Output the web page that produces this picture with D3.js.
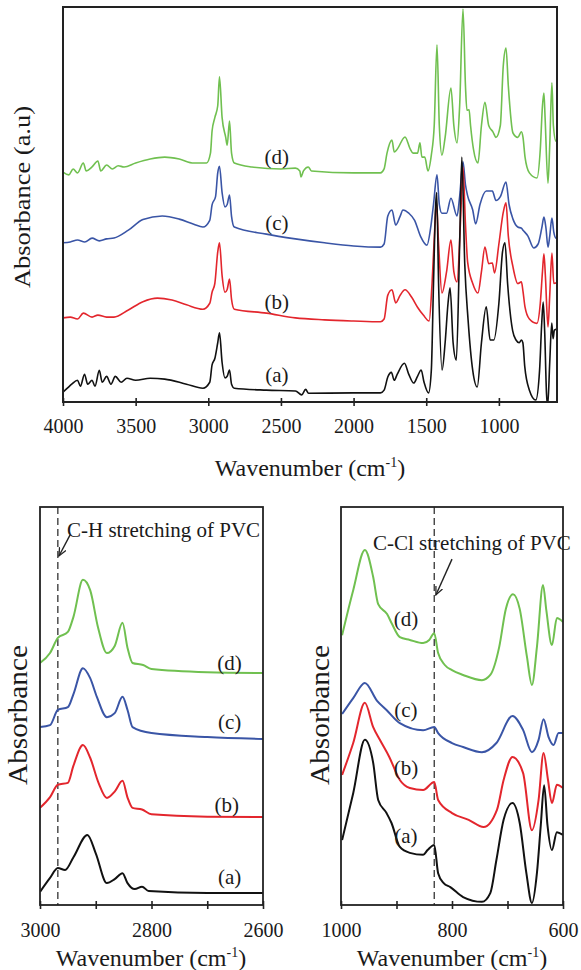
<!DOCTYPE html>
<html>
<head>
<meta charset="utf-8">
<script src="https://cdn.jsdelivr.net/npm/d3@7"></script>
<style>
  html, body { margin: 0; padding: 0; background: #fff; }
  svg { display: block; }
  text { font-family: "Liberation Serif", "Times New Roman", serif; fill: #1a1a1a; }
</style>
</head>
<body>
<svg id="chart" width="581" height="970"></svg>
<script>
// ---------------- DATA ----------------
const seriesNames = ["(a)", "(b)", "(c)", "(d)"];

// Full spectrum (4000-600 cm-1), [wavenumber, absorbance a.u.]
const fullA = [[4000,2.5],[3970,3.5],[3940,4.5],[3900,5.5],[3880,4],[3852,7],[3830,4.5],[3800,5.5],[3780,4],[3750,8],[3730,5],[3700,6.5],[3670,4.5],[3640,6.5],[3600,5],[3560,6],[3500,5.5],[3400,6],[3300,5.8],[3150,4.5],[3037,3.5],[2990,5],[2974,9.4],[2955,11],[2935,15],[2923,17.5],[2905,10],[2885,6.1],[2870,6.5],[2854,8.1],[2840,4.5],[2821,3.5],[2600,3],[2400,2.8],[2357,1.8],[2330,3.2],[2310,2.2],[2000,2.3],[1815,2.3],[1790,3],[1764,6.4],[1740,7.5],[1720,5.5],[1700,7],[1650,9.8],[1620,7],[1586,4.8],[1560,6.5],[1535,8.1],[1515,5],[1484,2.3],[1465,8],[1450,30],[1435,50],[1428,53],[1415,30],[1391,8.1],[1370,15],[1350,25],[1336,28.9],[1315,15],[1293,10.6],[1270,40],[1255,62],[1235,35],[1212,20.8],[1180,8],[1149,3.8],[1120,15],[1087,24.1],[1060,15.7],[1035,15.7],[1000,25],[975,38],[958,40.3],[940,30],[905,18],[882,15.7],[860,15],[845,15.7],[835,15],[822,9],[790,3],[746,0.5],[720,8],[705,20],[695,25.3],[685,18],[672,2],[664,-1],[650,10],[636,20],[627,16],[618,18.2],[600,18.5]];
const fullB = [[4000,21.3],[3950,21.5],[3900,21],[3860,22.5],[3800,21.5],[3760,22],[3700,21.5],[3649,21.5],[3550,23.3],[3450,25.4],[3350,26.3],[3250,25.8],[3150,24.6],[3037,23.5],[2990,25],[2974,27.8],[2955,30],[2935,38],[2923,40.3],[2905,32],[2885,27.8],[2870,28.5],[2854,31.1],[2840,26],[2821,23.5],[2600,22.5],[2401,21.3],[2200,20.8],[2000,20.5],[1815,20.3],[1790,21],[1765,27],[1736,28.4],[1710,25.1],[1680,27],[1646,28.4],[1600,26.5],[1560,24],[1520,22],[1480,20.5],[1460,30],[1440,45],[1430,50.6],[1415,40],[1392,27.6],[1360,33],[1330,41],[1310,33],[1288,30.4],[1265,45],[1247,59.5],[1230,45],[1215,35.4],[1180,30],[1144,27.6],[1120,33],[1096,39.2],[1070,35],[1045,35.2],[1030,32.7],[1000,40],[970,48],[951,50.4],[935,42],[903,34.2],[870,30],[845,30.4],[834,28],[820,24],[790,21],[738,19.9],[715,25],[700,33],[690,37.5],[680,32],[662,19],[650,27],[635,37.7],[622,30],[607,30.1],[600,30.5]];
const fullC = [[4000,40.3],[3950,40.5],[3900,41],[3850,40.5],[3800,41.5],[3750,40.8],[3700,41.3],[3649,41.5],[3550,43.5],[3450,46.2],[3317,47.1],[3200,46.3],[3100,45],[3037,44.3],[2990,46],[2974,49.9],[2950,52],[2935,58],[2923,59.7],[2905,53],[2885,49.4],[2870,50],[2854,52.4],[2840,47],[2821,44.3],[2600,42.5],[2401,41.3],[2200,40.3],[2000,39.5],[1815,39.2],[1790,40],[1765,47],[1736,48.6],[1710,44.8],[1680,47],[1660,48.6],[1620,47.8],[1580,46],[1540,42],[1495,39.7],[1470,44],[1450,50],[1426,57.5],[1410,50],[1392,47.8],[1360,47.8],[1330,51.6],[1288,47.1],[1270,52],[1247,60.8],[1230,55],[1215,52.2],[1180,48.6],[1160,45.1],[1130,50],[1087,53.4],[1045,53.4],[1020,51],[990,52],[951,55.7],[930,50],[903,46.3],[870,44.3],[845,44],[834,43.5],[800,42],[760,39],[730,40],[705,44],[690,46.8],[676,44],[662,39.2],[650,42],[635,46.6],[622,43],[607,41.5],[600,42]];
const fullD = [[4000,58.2],[3960,57.5],[3930,59],[3900,58],[3860,60.5],[3840,58.5],[3800,59.5],[3760,61],[3740,58.5],[3700,60],[3660,59],[3620,59.8],[3580,59.5],[3500,60.5],[3400,61.5],[3300,62],[3200,61.5],[3100,60.5],[3012,60.5],[2985,63],[2974,68.6],[2955,72],[2935,75],[2923,82.3],[2905,72],[2880,67],[2870,65],[2854,71.1],[2840,63],[2821,60.5],[2700,59.5],[2500,59],[2401,59.2],[2370,58.5],[2362,57],[2345,58.5],[2312,59.5],[2290,58.5],[2000,58],[1815,58],[1790,59],[1770,63],[1736,66.3],[1720,63.3],[1700,64],[1646,67.1],[1610,64],[1591,63],[1560,63],[1543,65.6],[1530,62],[1510,62],[1488,58.5],[1465,62.5],[1445,70],[1426,90.4],[1410,70],[1392,62.5],[1370,67],[1330,79.5],[1310,70],[1288,65.6],[1270,75],[1247,99.5],[1230,80],[1220,73.9],[1205,74],[1195,70],[1175,64],[1144,60.5],[1120,70],[1096,75.9],[1070,70],[1041,68.4],[1020,67],[990,70],[970,85],[951,89.6],[935,80],[903,68.1],[870,67],[845,68.4],[834,67],[820,62],[790,58],[738,56.7],[715,64],[700,75],[690,78.2],[682,72],[662,55.4],[650,65],[635,80.8],[625,70],[607,66],[600,67]];

// C-H region (3000-2600 cm-1)
const chA = [[3000,3.3],[2982,6.8],[2968,9.3],[2955,8.8],[2940,12],[2915,17.6],[2900,13],[2880,5.5],[2866,6.5],[2852,8],[2843,5.5],[2830,4],[2817,4.6],[2805,3.5],[2700,3],[2600,3]];
const chB = [[3000,24.4],[2982,27.1],[2968,30.2],[2950,30.7],[2940,35],[2923,40.2],[2910,37],[2895,30.7],[2880,26.9],[2866,28.5],[2852,31.2],[2843,27],[2834,24.4],[2817,24],[2800,22.8],[2700,22.2],[2600,22.1]];
const chC = [[3000,44.7],[2982,45.2],[2968,49],[2950,49.7],[2940,53],[2923,59.5],[2910,57],[2898,52.3],[2880,47.2],[2866,48.2],[2852,52.3],[2843,49],[2834,44.7],[2800,43.2],[2700,42.2],[2600,41.7]];
const chD = [[3000,60.8],[2982,63.3],[2968,67.1],[2950,68.6],[2940,72.4],[2923,81.7],[2910,79.1],[2896,69.8],[2880,63.3],[2866,65.1],[2852,70.9],[2843,64.6],[2834,60.8],[2815,60.3],[2800,59.3],[2700,58.5],[2600,58.3]];

// C-Cl region (1000-600 cm-1)
const cclA = [[998,16.3],[978,28.1],[957,41.5],[942,35.7],[933,26.4],[918,23.1],[909,20.6],[894,14.6],[876,13.1],[852,12.6],[844,13.8],[832,15.1],[825,8],[815,5.5],[803,4.5],[780,2],[746,0.8],[731,3],[720,11.3],[707,21.4],[691,25.6],[678,20.6],[666,8],[656,0.5],[647,8],[640,20.1],[634,30.1],[628,20.1],[620,13.8],[611,18.3],[600,17.6]];
const cclB = [[998,32.7],[978,40.7],[957,50.8],[942,44.7],[930,41.5],[913,37.2],[894,31.4],[876,29.4],[852,28.9],[832,30.9],[825,26.4],[800,23.1],[770,21.4],[743,19.6],[719,23.9],[707,31.4],[691,37.2],[672,33.2],[656,18.8],[644,26.4],[635,38.2],[627,31.4],[620,25.6],[611,30.2],[600,29.4]];
const cclC = [[998,48],[978,52],[957,55.8],[935,51.3],[918,49],[894,45.7],[852,43.9],[832,44.7],[825,43.2],[800,40.7],[780,39.7],[746,38.4],[720,40.7],[691,47.5],[672,44],[656,38.4],[644,41.5],[635,46.7],[626,42.2],[617,40.2],[608,43.2],[600,43.2]];
const cclD = [[998,67.8],[978,79.1],[957,89.2],[942,82.4],[933,75.6],[917,73.1],[908,70.6],[894,67.3],[876,66.6],[852,65.8],[841,66.6],[832,68.3],[825,63.3],[813,60.3],[800,59],[780,57.8],[746,56.5],[731,57.8],[715,64.8],[703,74.4],[690,78.1],[678,74.4],[665,62.4],[656,55.3],[647,64.8],[636,80.4],[630,74],[620,65.3],[611,72.1],[600,71.1]];

// Tick values
const fullTicks = [4000, 3500, 3000, 2500, 2000, 1500, 1000];
const chTicks = [3000, 2900, 2800, 2700, 2600];
const chTickLabels = [3000, 2800, 2600];
const cclTicks = [1000, 900, 800, 700, 600];
const cclTickLabels = [1000, 800, 600];

// Series label anchors [wavenumber, absorbance]
const fullLabelPos = [[2528, 6.8], [2528, 25.3], [2528, 45.3], [2528, 62]];
const chLabelPos = [[2660, 7], [2665, 25.3], [2660, 46], [2660, 60.8]];
const cclLabelPos = [[883, 17.5], [883, 34.5], [883, 49], [883, 72]];

// Marker lines
const chMarker = 2968;
const cclMarker = 832;

// ---------------- STYLE ----------------
const colors = ["#111111", "#e3262d", "#3a55a6", "#70c050"];

const svg = d3.select("#chart");
const defs = svg.append("defs");
defs.append("marker").attr("id", "arrow").attr("viewBox", "0 0 10 10")
  .attr("refX", 9).attr("refY", 5).attr("markerWidth", 9).attr("markerHeight", 9)
  .attr("orient", "auto-start-reverse").attr("markerUnits", "userSpaceOnUse")
  .append("path").attr("d", "M0,1 L9,5 L0,9").attr("fill", "none").attr("stroke", "#222").attr("stroke-width", 1.4);

function panel(cfg) {
  const x = d3.scaleLinear().domain(cfg.xDomain).range([cfg.left, cfg.right]);
  const y = d3.scaleLinear().domain([0, 100]).range([cfg.bottom, cfg.top]);
  const g = svg.append("g");
  const clipId = "clip" + cfg.id;
  defs.append("clipPath").attr("id", clipId).append("rect")
    .attr("x", cfg.left).attr("y", cfg.top).attr("width", cfg.right - cfg.left).attr("height", cfg.bottom - cfg.top);

  if (cfg.marker !== undefined) {
    g.append("line").attr("x1", x(cfg.marker)).attr("x2", x(cfg.marker))
      .attr("y1", cfg.top).attr("y2", cfg.bottom)
      .attr("stroke", "#333").attr("stroke-width", 1.3).attr("stroke-dasharray", "7,4");
  }

  const line = d3.line().x(d => x(d[0])).y(d => y(d[1])).curve(d3.curveMonotoneX);
  const lg = g.append("g").attr("clip-path", `url(#${clipId})`);
  for (let i = cfg.series.length - 1; i >= 0; i--) {
    lg.append("path").datum(cfg.series[i]).attr("d", line)
      .attr("fill", "none").attr("stroke", colors[i]).attr("stroke-width", cfg.lw)
      .attr("stroke-linejoin", "round");
  }

  cfg.labelPos.forEach((p, i) => {
    g.append("text").attr("x", x(p[0])).attr("y", y(p[1])).attr("dy", "0.35em")
      .attr("text-anchor", "middle").attr("font-size", 21).text(seriesNames[i]);
  });

  const fmt = d => cfg.tickLabels.includes(d) ? d : "";
  g.append("g").attr("transform", `translate(0,${cfg.bottom})`)
    .call(d3.axisBottom(x).tickValues(cfg.ticks).tickSizeInner(cfg.tick).tickSizeOuter(0)
      .tickPadding(cfg.pad).tickFormat(fmt))
    .call(a => a.select(".domain").remove())
    .call(a => a.selectAll("line").attr("stroke", "#222").attr("stroke-width", 1.6))
    .call(a => a.selectAll("text").attr("font-size", 20).attr("fill", "#1a1a1a")
      .attr("font-family", '"Liberation Serif", serif'));
  g.append("g").attr("transform", `translate(0,${cfg.bottom})`)
    .call(d3.axisBottom(x).tickValues(cfg.ticks).tickSizeInner(-cfg.tick).tickSizeOuter(0).tickFormat(""))
    .call(a => a.select(".domain").remove())
    .call(a => a.selectAll("line").attr("stroke", "#222").attr("stroke-width", 1.6));

  g.append("rect").attr("x", cfg.left).attr("y", cfg.top)
    .attr("width", cfg.right - cfg.left).attr("height", cfg.bottom - cfg.top)
    .attr("fill", "none").attr("stroke", "#222").attr("stroke-width", cfg.frameW);

  const xt = g.append("text").attr("x", cfg.xTitleX).attr("y", cfg.xTitleY)
    .attr("text-anchor", "middle").attr("font-size", 24);
  xt.append("tspan").text("Wavenumber (cm");
  xt.append("tspan").attr("font-size", 14).attr("dy", -9).text("-1");
  xt.append("tspan").attr("dy", 9).text(")");

  const yt = g.append("text").attr("transform", `translate(${cfg.yTitleX},${cfg.yTitleY}) rotate(-90)`)
    .attr("text-anchor", "middle").attr("font-size", cfg.yTitleSize)
    .text(cfg.yTitle);
  if (cfg.yTitleLen) yt.attr("textLength", cfg.yTitleLen).attr("lengthAdjust", "spacingAndGlyphs");

  if (cfg.note) {
    g.append("text").attr("x", cfg.note.x).attr("y", cfg.note.y).attr("font-size", 21).text(cfg.note.text);
    const a = cfg.note.arrow;
    g.append("line").attr("x1", x(a[0][0])).attr("y1", y(a[0][1]))
      .attr("x2", x(a[1][0])).attr("y2", y(a[1][1]))
      .attr("stroke", "#222").attr("stroke-width", 1.4).attr("marker-end", "url(#arrow)");
  }
}

panel({
  id: "full", xDomain: [4000, 600], left: 63, right: 557, top: 7, bottom: 402,
  series: [fullA, fullB, fullC, fullD], lw: 1.6, labelPos: fullLabelPos,
  ticks: fullTicks, tickLabels: fullTicks, tick: 4, pad: 13, frameW: 2,
  xTitleX: 310, xTitleY: 476, yTitle: "Absorbance (a.u)", yTitleX: 30, yTitleY: 197,
  yTitleSize: 24, yTitleLen: 182
});

panel({
  id: "ch", xDomain: [3000, 2600], left: 40, right: 263, top: 507, bottom: 905,
  series: [chA, chB, chC, chD], lw: 2, labelPos: chLabelPos,
  ticks: chTicks, tickLabels: chTickLabels, tick: 4, pad: 14, frameW: 1.8,
  xTitleX: 151, xTitleY: 966, yTitle: "Absorbance", yTitleX: 27, yTitleY: 715,
  yTitleSize: 27, yTitleLen: 140, marker: chMarker,
  note: { x: 67, y: 537, text: "C-H stretching of PVC", arrow: [[2946, 93], [2966, 87.7]] }
});

panel({
  id: "ccl", xDomain: [1000, 600], left: 341, right: 563, top: 507, bottom: 905,
  series: [cclA, cclB, cclC, cclD], lw: 2, labelPos: cclLabelPos,
  ticks: cclTicks, tickLabels: cclTickLabels, tick: 4, pad: 14, frameW: 1.8,
  xTitleX: 452, xTitleY: 966, yTitle: "Absorbance", yTitleX: 329, yTitleY: 715,
  yTitleSize: 27, yTitleLen: 140, marker: cclMarker,
  note: { x: 373, y: 550, text: "C-Cl stretching of PVC", arrow: [[800, 86.9], [829, 77.9]] }
});
</script>
</body>
</html>
